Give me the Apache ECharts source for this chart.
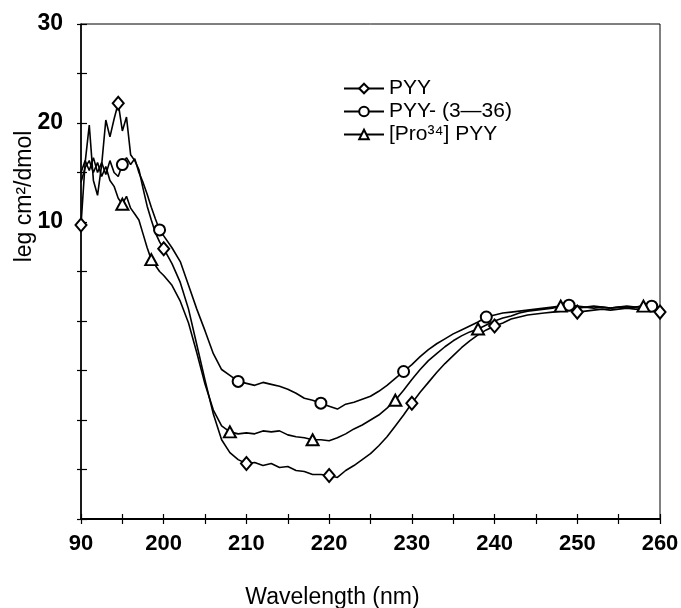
<!DOCTYPE html>
<html><head><meta charset="utf-8">
<script src="https://cdn.jsdelivr.net/npm/echarts@6/dist/echarts.min.js"></script>
<style>html,body{margin:0;padding:0;background:#fff}#c{width:681px;height:608px}</style>
</head><body><div id="c"></div>
<script>
// Wavelength (nm): 0.5 nm steps in the noisy 190-200 region, 1 nm after
const wavelengths = [190,190.5,191,191.5,192,192.5,193,193.5,194,194.5,195,195.5,196,196.5,197,197.5,198,198.5,199,199.5,200,
  201,202,203,204,205,206,207,208,209,210,211,212,213,214,215,216,217,218,219,220,
  221,222,223,224,225,226,227,228,229,230,231,232,233,234,235,236,237,238,239,240,
  241,242,243,244,245,246,247,248,249,250,251,252,253,254,255,256,257,258,259,260];

const seriesNames = ['PYY', 'PYY- (3—36)', '[Pro³⁴] PYY'];

const valuesPYY = [9.7,16.0,19.8,14.2,12.7,15.8,20.3,18.6,20.4,22.0,19.2,20.6,16.8,16.2,15.3,13.4,11.6,10.2,8.9,8.0,7.3,
  5.8,3.9,1.2,-2.4,-6.0,-9.4,-12.0,-13.3,-14.0,-14.4,-14.3,-14.6,-14.4,-14.8,-14.7,-15.1,-15.2,-15.5,-15.5,-15.6,
  -15.8,-15.1,-14.6,-14.0,-13.4,-12.6,-11.7,-10.6,-9.5,-8.3,-7.2,-6.2,-5.2,-4.3,-3.5,-2.7,-2.0,-1.4,-0.9,-0.5,
  -0.2,0.2,0.4,0.6,0.7,0.8,0.9,1.0,1.1,0.9,1.0,1.1,1.2,1.1,1.2,1.3,1.2,1.2,1.1,0.9];

const valuesPYY336 = [15.0,16.2,15.2,16.5,15.0,16.0,14.8,16.2,15.0,14.6,15.8,16.5,15.8,16.4,15.0,14.0,12.8,11.5,10.3,9.2,8.6,
  7.4,6.0,3.6,1.2,-1.0,-3.3,-4.9,-5.5,-6.1,-6.3,-6.5,-6.2,-6.4,-6.6,-6.9,-7.3,-7.8,-8.0,-8.3,-8.6,
  -8.9,-8.4,-8.2,-7.9,-7.6,-7.1,-6.5,-5.8,-5.1,-4.4,-3.6,-2.9,-2.3,-1.8,-1.3,-0.9,-0.5,-0.1,0.4,0.6,
  0.8,0.9,1.0,1.1,1.2,1.3,1.4,1.5,1.6,1.5,1.4,1.5,1.4,1.3,1.4,1.5,1.4,1.5,1.5,1.3];

const valuesPro34 = [14.0,15.5,16.2,15.0,16.0,14.6,15.6,14.2,13.6,12.4,11.8,12.6,11.4,10.8,10.2,8.8,7.4,6.2,5.6,5.0,4.6,
  3.6,2.0,-0.2,-3.2,-6.4,-9.0,-10.6,-11.2,-11.4,-11.3,-11.4,-11.1,-11.2,-11.1,-11.5,-11.7,-11.8,-12.0,-12.0,-12.1,
  -11.8,-11.4,-10.9,-10.5,-10.0,-9.5,-8.8,-8.0,-7.0,-5.9,-4.9,-4.0,-3.3,-2.6,-2.0,-1.5,-1.1,-0.8,-0.4,0.0,
  0.3,0.5,0.8,1.0,1.1,1.2,1.3,1.5,1.4,1.3,1.4,1.3,1.4,1.3,1.4,1.3,1.4,1.5,1.3,1.2];

// Wavelengths where a marker symbol is drawn
const markersPYY = [190,194.5,200,210,220,230,240,250,260];
const markersPYY336 = [195,199.5,209,219,229,239,249,259];
const markersPro34 = [195,198.5,208,218,228,238,248,258];

const xTickLabels = {190:'90',200:'200',210:'210',220:'220',230:'230',240:'240',250:'250',260:'260'};
const yTickLabels = {30:'30',20:'20',10:'10'};

const FONT = 'Liberation Sans, Arial, sans-serif';

function buildData(vals, marks) {
  return wavelengths.map((x, i) => marks.indexOf(x) >= 0
    ? {value: [x, vals[i]]}
    : {value: [x, vals[i]], symbol: 'none'});
}

function makeSeries(name, vals, marks, symbol, size) {
  return {
    name: name, type: 'line', xAxisIndex: 0, yAxisIndex: 0,
    data: buildData(vals, marks),
    symbol: symbol, symbolSize: size, showAllSymbol: true, clip: false,
    lineStyle: {color: '#000', width: 1.6},
    itemStyle: {color: '#000', borderWidth: 1.3},
    emphasis: {disabled: true}, silent: true
  };
}

const chart = echarts.init(document.getElementById('c'), null, {renderer: 'canvas'});
chart.setOption({
  animation: false,
  backgroundColor: '#fff',
  grid: {left: 81, right: 21, top: 24, bottom: 89, show: true, borderColor: '#000', borderWidth: 1,
    containLabel: false, outerBoundsMode: 'none'},
  legend: {
    orient: 'vertical', left: 338, top: 73, itemWidth: 40, itemHeight: 12, itemGap: 2,
    data: seriesNames, selectedMode: false,
    textStyle: {fontFamily: FONT, fontSize: 21, color: '#000'}
  },
  xAxis: [{
    type: 'value', min: 190, max: 260, interval: 5, position: 'bottom',
    axisLine: {onZero: false, lineStyle: {color: '#000', width: 1.8}},
    axisTick: {inside: false, length: 5, lineStyle: {color: '#000', width: 1.2}},
    axisLabel: {fontFamily: FONT, fontSize: 22, fontWeight: 'bold', color: '#000', margin: 14,
      formatter: v => xTickLabels[v] || ''},
    splitLine: {show: false},
    name: 'Wavelength (nm)', nameLocation: 'middle', nameGap: 67, nameMoveOverlap: false,
    nameTextStyle: {fontFamily: FONT, fontSize: 23, color: '#000', padding: [0, 76, 0, 0]}
  }, {
    type: 'value', min: 190, max: 260, interval: 5, position: 'bottom',
    axisLine: {show: false, onZero: false},
    axisTick: {inside: true, length: 5, lineStyle: {color: '#000', width: 1.2}},
    axisLabel: {show: false}, splitLine: {show: false}
  }],
  yAxis: [{
    type: 'value', min: -20, max: 30, interval: 5, position: 'left',
    axisLine: {onZero: false, lineStyle: {color: '#000', width: 1.6}},
    axisTick: {inside: false, length: 4, lineStyle: {color: '#000', width: 1.2}},
    axisLabel: {fontFamily: FONT, fontSize: 23, fontWeight: 'bold', color: '#000', margin: 18,
      formatter: v => yTickLabels[v] || ''},
    splitLine: {show: false},
    name: 'leg cm²/dmol', nameLocation: 'middle', nameGap: 45, nameMoveOverlap: false,
    nameTextStyle: {fontFamily: FONT, fontSize: 23, color: '#000', padding: [0, 0, 0, 150]}
  }, {
    type: 'value', min: -20, max: 30, interval: 5, position: 'left',
    axisLine: {show: false, onZero: false},
    axisTick: {inside: true, length: 6, lineStyle: {color: '#000', width: 1.2}},
    axisLabel: {show: false}, splitLine: {show: false}
  }],
  series: [
    makeSeries(seriesNames[0], valuesPYY, markersPYY, 'emptyDiamond', [11, 13]),
    makeSeries(seriesNames[1], valuesPYY336, markersPYY336, 'emptyCircle', 11),
    makeSeries(seriesNames[2], valuesPro34, markersPro34, 'emptyTriangle', [12, 11])
  ]
});
</script></body></html>
